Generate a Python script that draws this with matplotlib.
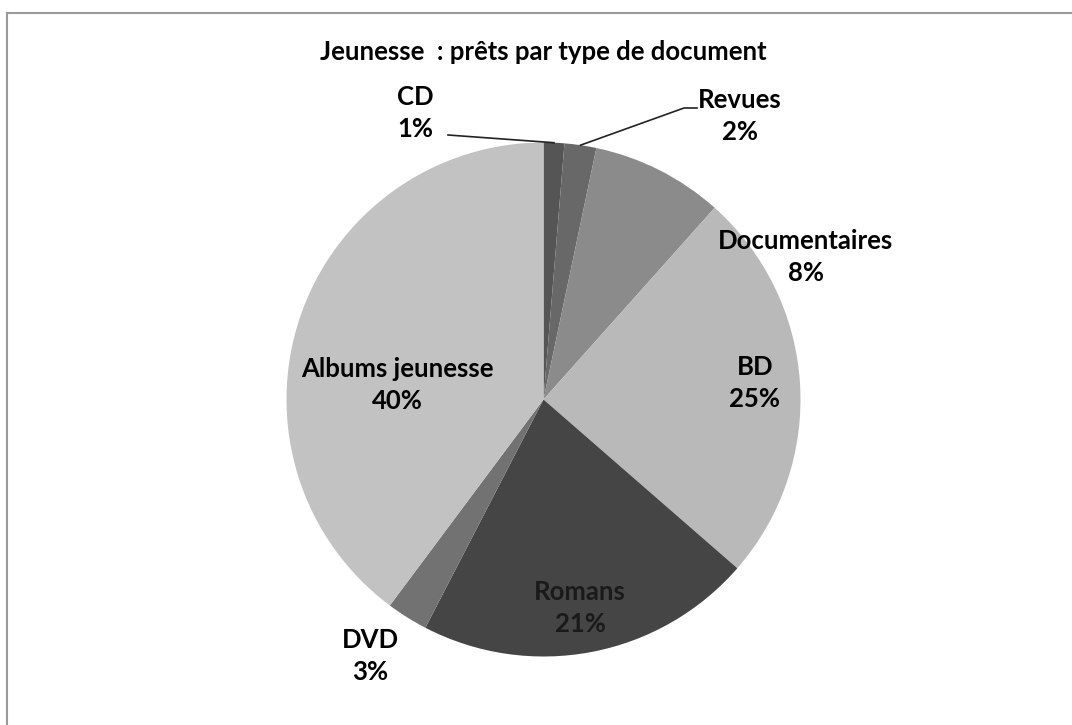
import matplotlib
matplotlib.use("Agg")
import matplotlib.pyplot as plt
import numpy as np

# données
categories = ["CD", "Revues", "Documentaires", "BD", "Romans", "DVD", "Albums jeunesse"]
shares = [1.3, 2.0, 8.3, 24.8, 21.2, 2.6, 39.8]
colors = ["#555555", "#686868", "#8b8b8b", "#b9b9b9", "#454545", "#727272", "#c2c2c2"]

W, H = 1072, 725
CX, CY, R = 543.5, H - 399.5, 257

# positions des étiquettes (pixels, origine en haut à gauche)
label_pos = {
    "CD": (415, 113),
    "Revues": (740, 116),
    "Documentaires": (806, 257),
    "BD": (755, 383),
    "Romans": (580, 608),
    "DVD": (370, 656),
    "Albums jeunesse": (397, 385),
}
# coude des traits de rappel : (point oblique, fin horizontale)
leader_end = {"CD": [(448, 135)], "Revues": [(684, 108), (697, 108)]}

plt.rcParams["font.family"] = ["Lato", "DejaVu Sans"]

fig = plt.figure(figsize=(W / 100, H / 100), dpi=100)
ax = fig.add_axes([0, 0, 1, 1])
ax.axis("off")

wedges, _ = ax.pie(shares, colors=colors, startangle=90, counterclock=False,
                   center=(CX, CY), radius=R,
                   wedgeprops={"linewidth": 0})
ax.set_xlim(0, W)
ax.set_ylim(0, H)
ax.set_aspect("equal")

total = sum(shares)
for cat, val, w in zip(categories, shares, wedges):
    pct = 100 * val / total
    x, y = label_pos[cat]
    col = "#1a1a1a" if cat == "Romans" else "black"
    ax.text(x, H - y, f"{cat}\n{pct:.0f}%", ha="center", va="center",
            fontsize=18.5, fontweight="bold", color=col, linespacing=1.42)
    if cat in leader_end:
        mid = np.deg2rad((w.theta1 + w.theta2) / 2)
        ex, ey = CX + R * np.cos(mid), CY + R * np.sin(mid)
        xs = [ex] + [p[0] for p in leader_end[cat]]
        ys = [ey] + [H - p[1] for p in leader_end[cat]]
        ax.plot(xs, ys, color="#222222", lw=1.2)

ax.text(543, H - 52, "Jeunesse  : prêts par type de document", ha="center",
        va="center", fontsize=18.5, fontweight="bold")

# cadre du graphique (bords haut et gauche visibles)
ax.plot([7, W], [H - 13, H - 13], color="#9a9a9a", lw=1.5)
ax.plot([7, 7], [H - 13, 0], color="#9a9a9a", lw=1.5)

fig.savefig("out.png", dpi=100)
